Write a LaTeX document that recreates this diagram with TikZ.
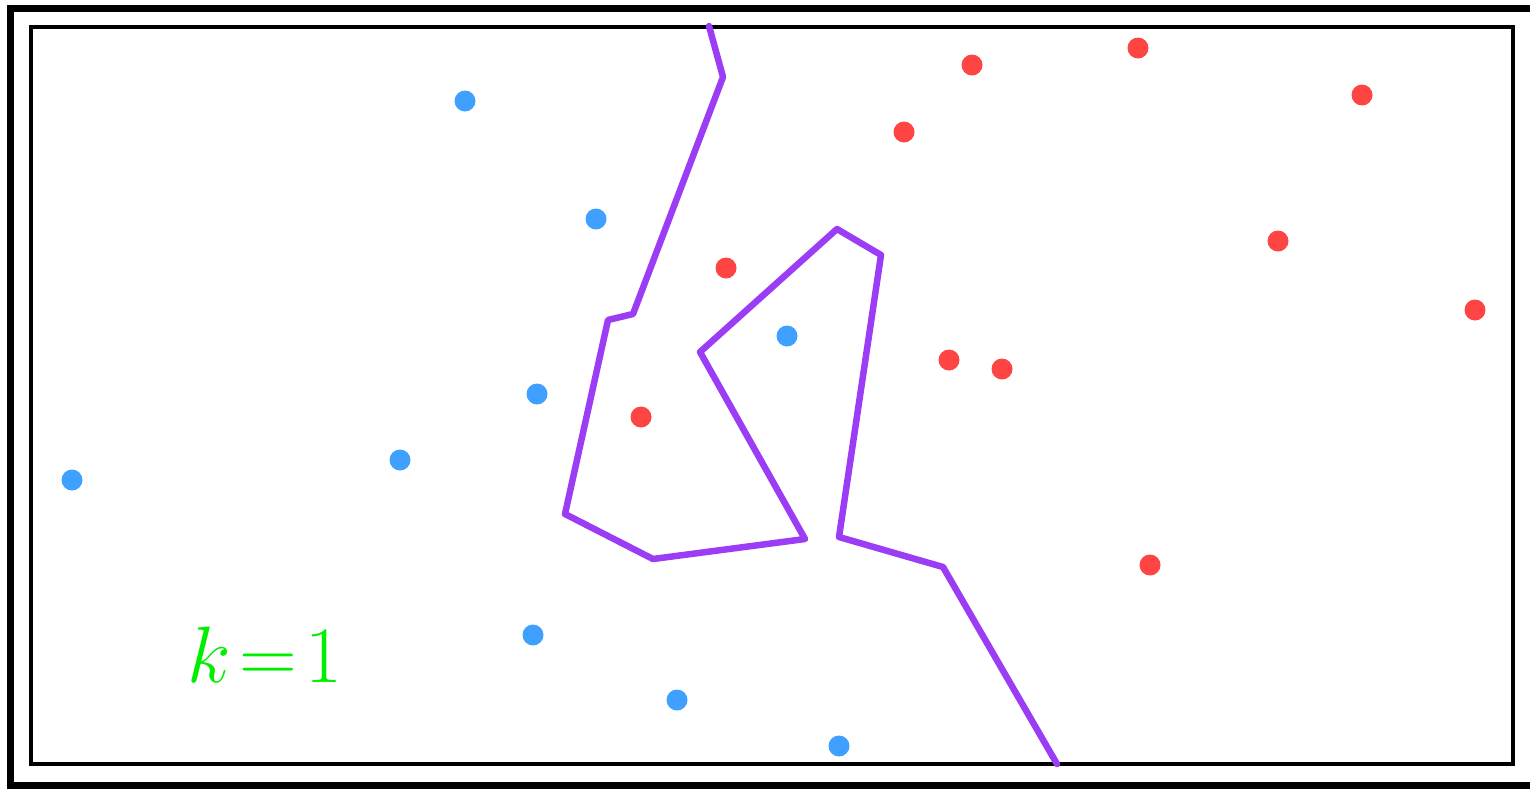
\RequirePackage{fix-cm}
\documentclass[tikz,border=0pt]{standalone}
\begin{document}
\begin{tikzpicture}[x=1pt,y=-1pt,
  bdot/.style={circle,fill=dotblue,inner sep=0pt,minimum size=21pt},
  rdot/.style={circle,fill=dotred,inner sep=0pt,minimum size=21pt},
  boundary/.style={draw=bpurple,line width=6.5pt,line cap=round,line join=round}]
\definecolor{dotblue}{RGB}{64,160,255}
\definecolor{dotred}{RGB}{255,68,68}
\definecolor{bpurple}{RGB}{155,61,245}
\definecolor{kgreen}{RGB}{0,238,0}
\useasboundingbox (0,0) rectangle (1530,788);
\draw[line width=7pt] (10.5,8.5) rectangle (1545,785);
\draw[line width=4pt] (31,27) rectangle (1513,764);
\foreach \p [count=\i] in {(465,101),(596,219),(787,336),(537,394),(400,460),(72,480),(533,635),(677,700),(839,746)}
  \node[bdot] (b\i) at \p {};
\foreach \p [count=\i] in {(972,65),(1138,48),(1362,95),(904,132),(726,268),(1278,241),(1475,310),(949,360),(1002,369),(641,417),(1150,565)}
  \node[rdot] (r\i) at \p {};
\draw[boundary] (709,26) -- (723,77) -- (633,314) -- (608,320) -- (565,514) -- (653,559) -- (805,539) -- (700,352) -- (837,229) -- (881,255) -- (839,537) -- (943,567) -- (1057,764);
\node[text=kgreen,font=\fontsize{80}{96}\selectfont,inner sep=0pt] (lbl) at (265,655) {$k\!=\!1$};
\end{tikzpicture}
\end{document}
